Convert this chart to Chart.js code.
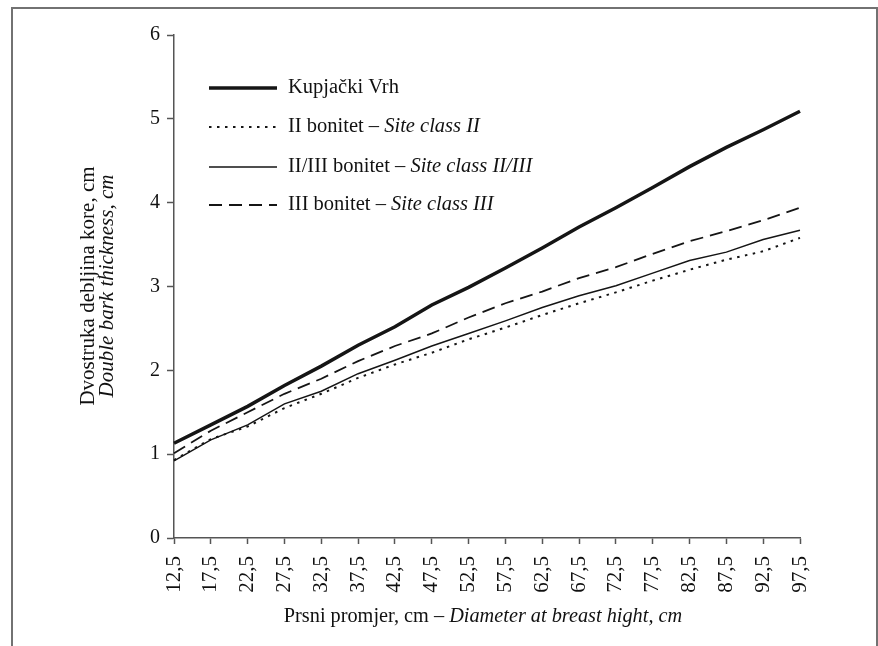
<!DOCTYPE html>
<html>
<head>
<meta charset="utf-8">
<script src="https://cdn.jsdelivr.net/npm/chart.js@4.4.1/dist/chart.umd.min.js"></script>
<style>
  html, body { margin: 0; padding: 0; background: #fff; }
</style>
</head>
<body>
<canvas id="chart" width="878" height="646"></canvas>
<script>
// diameter classes (cm) on the x axis
const diameters = ['12,5', '17,5', '22,5', '27,5', '32,5', '37,5', '42,5', '47,5', '52,5',
                   '57,5', '62,5', '67,5', '72,5', '77,5', '82,5', '87,5', '92,5', '97,5'];

// double bark thickness, cm
const kupjackiVrh = [1.13, 1.35, 1.57, 1.82, 2.05, 2.30, 2.52, 2.78, 2.99, 3.22, 3.46, 3.71, 3.94, 4.18, 4.43, 4.66, 4.87, 5.09];
const siteClassII = [0.93, 1.18, 1.33, 1.55, 1.72, 1.91, 2.07, 2.21, 2.37, 2.51, 2.66, 2.80, 2.93, 3.07, 3.20, 3.32, 3.42, 3.58];
const siteClassIIandIII = [0.92, 1.17, 1.35, 1.60, 1.75, 1.96, 2.12, 2.29, 2.44, 2.59, 2.75, 2.89, 3.01, 3.16, 3.31, 3.41, 3.56, 3.67];
const siteClassIII = [1.01, 1.28, 1.50, 1.72, 1.90, 2.11, 2.29, 2.44, 2.63, 2.80, 2.94, 3.10, 3.23, 3.39, 3.54, 3.66, 3.79, 3.94];

// legend text: upright part + italic part
const legendPlain = ['Kupjački Vrh', 'II bonitet – ', 'II/III bonitet – ', 'III bonitet – '];
const legendItalic = ['', 'Site class II', 'Site class II/III', 'Site class III'];

const FONT = 'Liberation Serif';
const INK = '#111';
const AXIS = '#555';

function mixedText(ctx, plain, italic, x, y, size, align) {
    ctx.font = `${size}px "${FONT}"`;
    const w1 = ctx.measureText(plain).width;
    ctx.font = `italic ${size}px "${FONT}"`;
    const w2 = ctx.measureText(italic).width;
    let start = x;
    if (align === 'center') start = x - (w1 + w2) / 2;
    ctx.textAlign = 'left';
    ctx.font = `${size}px "${FONT}"`;
    ctx.fillText(plain, start, y);
    ctx.font = `italic ${size}px "${FONT}"`;
    ctx.fillText(italic, start + w1, y);
}

const decorations = {
    id: 'decorations',
    beforeDraw(chart) {
        const ctx = chart.ctx;
        ctx.save();
        ctx.fillStyle = '#fff';
        ctx.fillRect(0, 0, chart.width, chart.height);
        // page frame
        ctx.strokeStyle = '#727272';
        ctx.lineWidth = 2;
        ctx.strokeRect(12, 8, 865, 700);
        ctx.restore();
    },
    afterDraw(chart) {
        const ctx = chart.ctx;
        ctx.save();
        ctx.fillStyle = INK;
        ctx.textBaseline = 'middle';

        // legend inside the plot
        const rows = [88, 127, 167, 205];
        chart.data.datasets.forEach((ds, i) => {
            ctx.beginPath();
            ctx.strokeStyle = ds.borderColor;
            ctx.lineWidth = ds.borderWidth;
            ctx.setLineDash(ds.borderDash || []);
            ctx.moveTo(209, rows[i]);
            ctx.lineTo(277, rows[i]);
            ctx.stroke();
            ctx.setLineDash([]);
            mixedText(ctx, legendPlain[i], legendItalic[i], 288, rows[i], 20.5, 'left');
        });

        // y axis title, two lines
        ctx.save();
        ctx.translate(88, 286);
        ctx.rotate(-Math.PI / 2);
        ctx.textAlign = 'center';
        ctx.font = `21px "${FONT}"`;
        ctx.fillText('Dvostruka debljina kore, cm', 0, 0);
        ctx.font = `italic 21px "${FONT}"`;
        ctx.fillText('Double bark thickness, cm', 0, 19);
        ctx.restore();

        // x axis title
        mixedText(ctx, 'Prsni promjer, cm – ', 'Diameter at breast hight, cm', 483, 617, 20.3, 'center');
        ctx.restore();
    }
};

function lineSet(label, data, width, dash) {
    return {
        label: label,
        data: data,
        borderColor: '#151515',
        borderWidth: width,
        borderDash: dash,
        pointRadius: 0,
        tension: 0,
        fill: false
    };
}

new Chart(document.getElementById('chart'), {
    type: 'line',
    data: {
        labels: diameters,
        datasets: [
            lineSet('Kupjački Vrh', kupjackiVrh, 3.5, []),
            lineSet('II bonitet – Site class II', siteClassII, 2, [2.5, 5.5]),
            lineSet('II/III bonitet – Site class II/III', siteClassIIandIII, 1.5, []),
            lineSet('III bonitet – Site class III', siteClassIII, 1.8, [13, 7])
        ]
    },
    options: {
        responsive: false,
        animation: false,
        devicePixelRatio: 1,
        layout: { padding: { left: 0, top: 35, right: 78, bottom: 0 } },
        plugins: {
            legend: { display: false },
            tooltip: { enabled: false }
        },
        scales: {
            x: {
                type: 'category',
                offset: false,
                border: { color: AXIS, width: 1.5 },
                grid: { drawOnChartArea: false, drawTicks: true, tickLength: 6, tickColor: AXIS, tickWidth: 1.5 },
                ticks: {
                    autoSkip: false, maxRotation: 90, minRotation: 90, padding: 12,
                    color: INK, font: { family: FONT, size: 21 }
                },
                afterFit(scale) { scale.height = 108; }
            },
            y: {
                min: 0,
                max: 6,
                border: { color: AXIS, width: 1.5 },
                grid: { drawOnChartArea: false, drawTicks: true, tickLength: 7, tickColor: AXIS, tickWidth: 1.5 },
                ticks: { stepSize: 1, padding: 7, color: INK, font: { family: FONT, size: 20 } },
                afterFit(scale) { scale.width = 174; }
            }
        }
    },
    plugins: [decorations]
});
</script>
</body>
</html>
